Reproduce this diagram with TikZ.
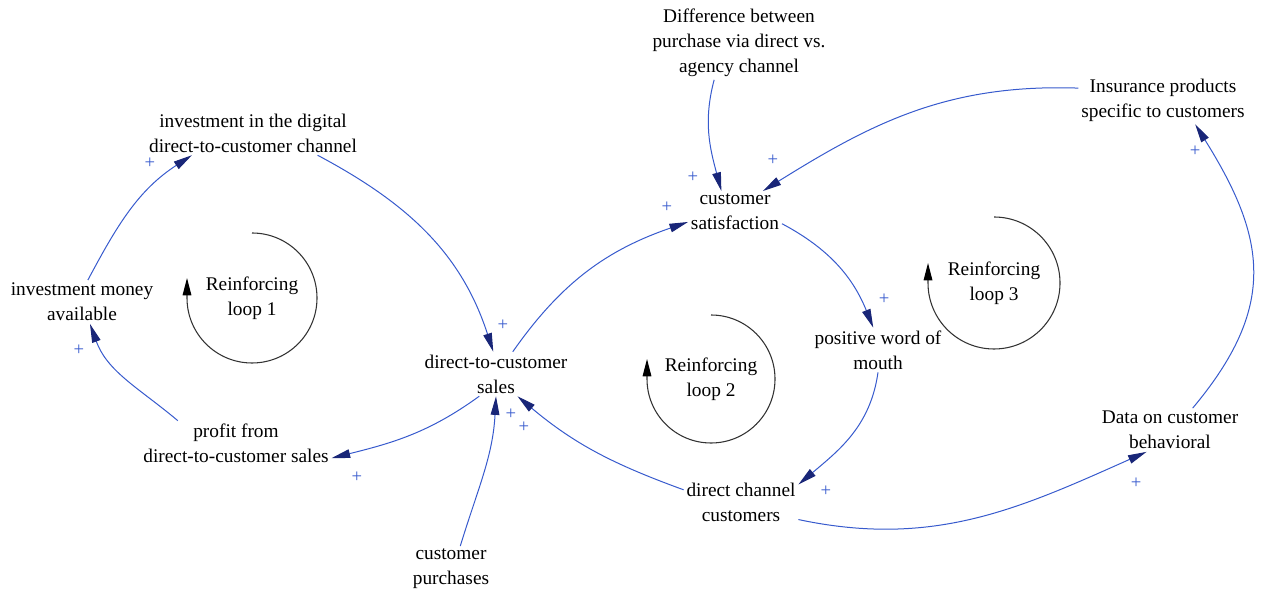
\documentclass[tikz,border=0pt]{standalone}
\usepackage{fontspec}
\setmainfont{Liberation Serif}
\usetikzlibrary{arrows.meta}
\definecolor{linkblue}{RGB}{55,90,205}
\definecolor{tipnavy}{RGB}{25,38,120}
\begin{document}
\begin{tikzpicture}[x=0.75pt,y=0.75pt]

\tikzset{
  var/.style={align=center, inner sep=2pt, font=\fontsize{14.5}{18.75}\selectfont, text=black},
  link/.style={draw=linkblue, line width=0.75pt, -{Triangle[length=14pt,width=6.5pt,color=tipnavy]}},
  plus/.style={text=linkblue, inner sep=0pt, font=\fontsize{14}{14}\selectfont},
  loopline/.style={draw=black!80, line width=0.8pt, -{Triangle[length=13pt,width=6.5pt,color=black]}}
}
\useasboundingbox (0,0) rectangle (1262,592);

\node[var] (Inv_digital) at (253,459) {investment in the digital\\direct-to-customer channel};
\node[var] (Inv_money) at (82,290) {investment money\\available};
\node[var] (Profit) at (236,149) {profit from\\direct-to-customer sales};
\node[var] (DTC_sales) at (496,218) {direct-to-customer\\sales};
\node[var] (Cust_purch) at (451,23) {customer\\purchases};
\node[var] (Cust_sat) at (735,380) {customer\\satisfaction};
\node[var] (Diff) at (739,549) {Difference between\\purchase via direct vs.\\agency channel};
\node[var] (Insur) at (1163,492) {Insurance products\\specific to customers};
\node[var] (PWOM) at (878,242) {positive word of\\mouth};
\node[var] (DC_cust) at (741,90) {direct channel\\customers};
\node[var] (Data) at (1170,162) {Data on customer\\behavioral};

\node[var] (RL_1) at (252,294) {Reinforcing\\loop 1};
\node[var] (RL_2) at (711,213) {Reinforcing\\loop 2};
\node[var] (RL_3) at (994,309) {Reinforcing\\loop 3};
\draw[loopline] (RL_1.center) ++(0,65) arc[start angle=90, end angle=-180, radius=65] -- ++(0,20);
\draw[loopline] (RL_2.center) ++(0,64) arc[start angle=90, end angle=-180, radius=64] -- ++(0,20);
\draw[loopline] (RL_3.center) ++(0,66) arc[start angle=90, end angle=-180, radius=66] -- ++(0,20);

\draw[link] (Inv_money.75) to[out=62,in=213] (Inv_digital.200);
\draw[link] (Inv_digital.341) to[out=-28,in=108] (DTC_sales.97);
\draw[link] (Profit.159) to[out=140,in=-70] (Inv_money.290);
\draw[link] (DTC_sales.233) to[out=216,in=14] (Profit.351);
\draw[link] (Cust_purch.68) to[out=73,in=-93] (DTC_sales.270);
\draw[link] (DC_cust.168) to[out=160,in=-40] (DTC_sales.314);
\draw[link] (DTC_sales.53) to[out=55,in=199] (Cust_sat.192);
\draw[link] (Diff.236) to[out=255,in=105] (Cust_sat.123);
\draw[link] (Insur.172) to[out=178,in=32] (Cust_sat.37);
\draw[link] (Cust_sat.346) to[out=-28,in=112] (PWOM.102);
\draw[link] (PWOM.270) to[out=262,in=40] (DC_cust.17);
\draw[link] (DC_cust.343) to[out=-12,in=204] (Data.223);
\draw[link] (Data.44) to[out=50,in=-58,looseness=1.2] (Insur.323);

\foreach \x/\y [count=\i] in {150/429, 503/267, 79/242, 357/115, 511/178, 524/165, 667/385,
  693/415, 773/432, 884/293, 826/101, 1136/109, 1195/441}
  \node[plus] (Plus_\i) at (\x,\y) {+};

\end{tikzpicture}
\end{document}
